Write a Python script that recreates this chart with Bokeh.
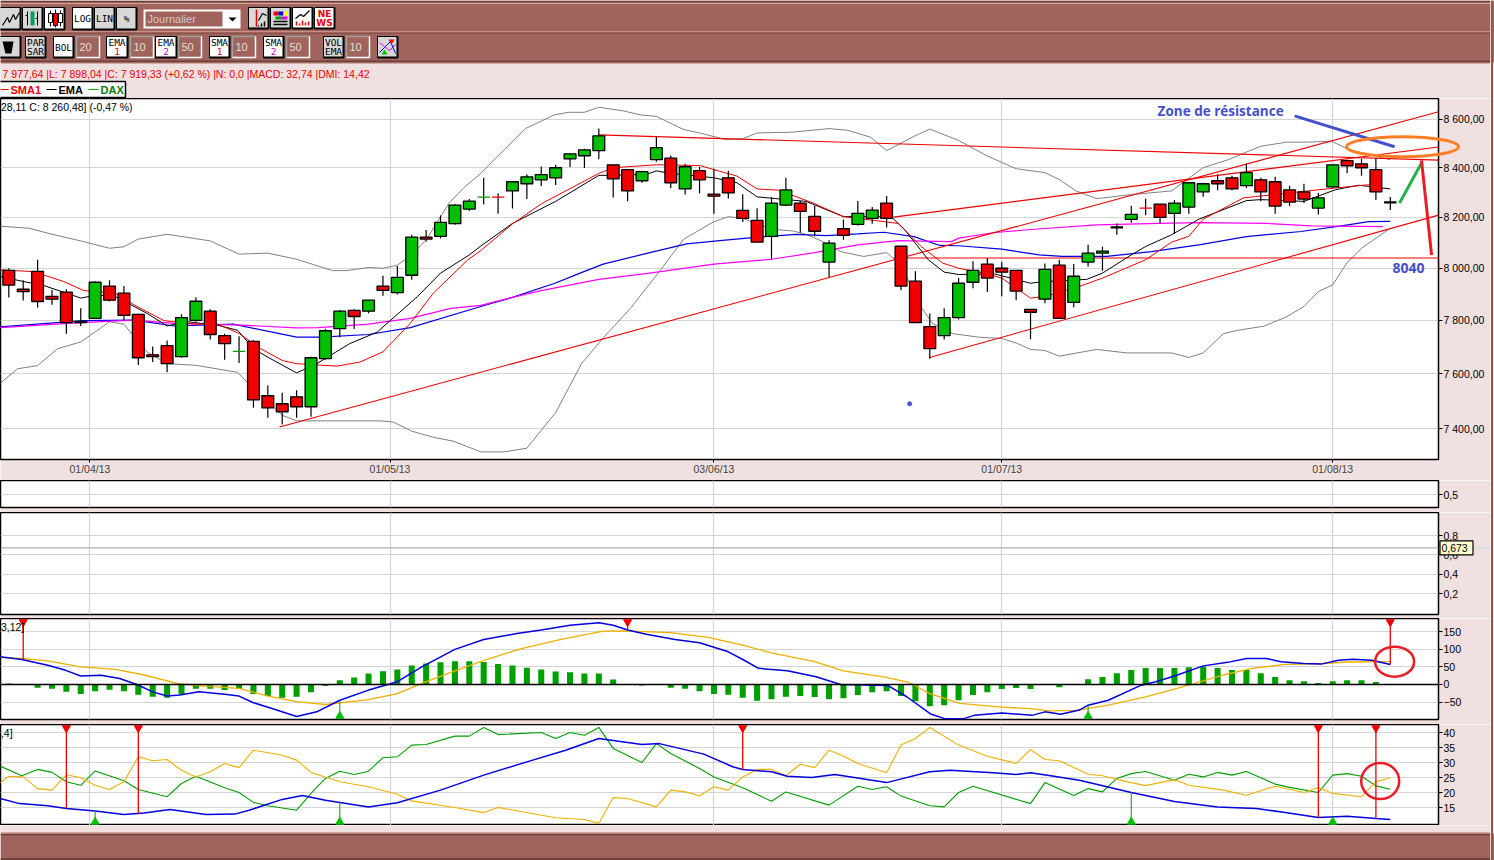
from bokeh.plotting import figure
from bokeh.layouts import column, row
from bokeh.models import FixedTicker, Span
from bokeh.core.properties import value
from bokeh.embed import file_html
from bokeh.resources import INLINE

# ---- candles (bar index is the list position) ----
opens = [7992,7919,7988,7892,7908,7796,7808,7931,7904,7823,7671,7705,7664,7800,7835,7743,7684,7721,7520,7491,
         7516,7480,7657,7769,7838,7835,7931,7906,7973,8122,8125,8175,8233,8281,8281,8306,8335,8351,8359,8436,
         8449,8470,8412,8392,8347,8433,8439,8314,8388,8293,8359,8228,8188,8125,8249,8257,8204,8024,8155,8172,
         8196,8257,8086,7950,7777,7743,7811,7946,8016,8000,7992,7842,7881,8012,7869,8024,8059,8166,8192,8237,
         8253,8216,8241,8302,8347,8359,8327,8351,8343,8310,8302,8237,8322,8429,8416,8392,8265]
closes = [7935,7910,7872,7881,7792,7792,7946,7877,7819,7660,7664,7638,7811,7873,7747,7713,7684,7505,7476,7462,
          7480,7660,7761,7835,7815,7877,7915,7965,8122,8114,8180,8249,8265,8281,8281,8343,8363,8372,8400,8457,
          8473,8531,8355,8306,8384,8482,8339,8404,8351,8285,8298,8196,8102,8257,8310,8224,8145,8098,8129,8216,
          8229,8196,7931,7792,7694,7811,7942,7992,7962,7985,7912,7831,7996,7808,7969,8059,8067,8160,8212,8237,
          8200,8257,8339,8335,8335,8314,8380,8302,8245,8261,8273,8278,8412,8408,8400,8302,8260]
highs = [8000,7954,8033,7917,7919,7846,7950,7954,7931,7825,7702,7724,7823,7888,7842,7750,7740,7726,7558,7531,
         7540,7664,7769,7840,7842,7878,7971,8009,8131,8150,8208,8253,8273,8359,8297,8343,8373,8405,8412,8457,
         8478,8561,8412,8392,8388,8527,8450,8416,8404,8396,8388,8293,8236,8282,8359,8265,8246,8110,8192,8265,
         8241,8286,8086,7988,7826,7846,7962,8027,8039,8024,7992,7842,8019,8033,8017,8092,8084,8176,8246,8274,
         8253,8269,8339,8339,8373,8367,8416,8359,8363,8327,8335,8298,8412,8433,8437,8439,8282]
lows = [7887,7876,7849,7860,7750,7779,7805,7872,7800,7633,7644,7606,7660,7795,7728,7653,7641,7476,7440,7416,
        7440,7444,7653,7737,7768,7827,7894,7899,7956,8105,8116,8171,8225,8251,8214,8235,8273,8326,8330,8403,
        8399,8435,8280,8264,8339,8424,8317,8292,8296,8214,8276,8182,8102,8035,8245,8139,8125,7966,8111,8168,
        8175,8160,7915,7792,7656,7728,7804,7923,7908,7892,7877,7729,7865,7808,7850,8007,7990,8131,8179,8209,
        8176,8134,8214,8283,8309,8309,8318,8264,8214,8245,8257,8211,8318,8378,8367,8269,8229]
doji_green = [16, 33]
doji_red = [34, 79]
doji_black = [77, 96]

# ---- price overlays: (bar index, price) ----
bb_upper = [(-0.6,8165),(1.4,8157),(3,8133),(5,8107),(7,8078),(8,8084),(9,8114),(11,8133),(14,8107),(16,8055),(18,8059),
            (20,8035),(22.5,7991),(23.5,7991),(25,8003),(26,8000),(27,8012),(28,8052),(29,8111),(30.6,8257),(31.6,8318),
            (32.8,8377),(35.9,8561),(37.9,8618),(38.9,8629),(40,8629),(41,8650),(42.7,8635),(43.9,8618),(45,8612),
            (46.9,8557),(48,8543),(49.8,8516),(51,8519),(52,8543),(54.4,8546),(57,8561),(58.3,8554),(59.9,8525),(61,8470),
            (62.9,8529),(64,8559),(66,8512),(68,8448),(70,8396),(72,8380),(73,8352),(74.2,8305),(75.6,8275),(78,8291),
            (80.8,8306),(83,8400),(84.8,8434),(86,8464),(87,8488),(88.8,8505),(90.3,8505),(91.9,8509),(93.1,8475),
            (94.5,8454),(96,8433)]
bb_lower = [(-0.6,7566),(0.6,7619),(2,7631),(3.4,7694),(5,7719),(7,7795),(8,7786),(9.6,7682),(11,7638),(13,7632),(15.9,7606),
            (17,7546),(19,7449),(20,7429),(22.3,7429),(24.4,7429),(25.8,7429),(26.7,7425),(28,7392),(29.5,7370),(30.9,7356),
            (32.8,7318),(34.4,7318),(36,7331),(38,7459),(39.8,7638),(41.3,7734),(43.2,7846),(45.3,7994),(46.9,8114),
            (49,8183),(50,8203),(51,8196),(53,8153),(54.5,8146),(55.5,8131),(56.8,8098),(57.8,8065),(59.4,8046),(61,8061),
            (62,8013),(63.3,7859),(64.2,7788),(65.6,7750),(67.4,7737),(69,7732),(70.1,7713),(71,7691),(72,7687),(73,7666),
            (75.6,7691),(77.7,7678),(80.8,7678),(82,7661),(83,7678),(84.4,7750),(85.3,7762),(87.2,7778),(88.8,7814),
            (90,7853),(91,7910),(92,7936),(93,8022),(94,8078),(96,8157)]
ema1 = [(-0.6,7968),(1,7949),(2.5,7932),(4,7904),(5,7885),(6.1,7897),(7.4,7891),(8.5,7859),(9.6,7827),(11,7779),(12.4,7795),
        (14.5,7782),(15.9,7763),(17,7694),(18,7662),(20,7604),(21.4,7638),(23.7,7713),(25.6,7756),(28.4,7891),(30,7981),
        (32,8052),(32.8,8087),(35,8176),(38,8264),(41,8369),(41.8,8369),(44.3,8373),(45,8387),(46,8377),(49,8359),(50.6,8339),
        (52,8282),(53.3,8275),(55.4,8264),(58,8203),(61.3,8203),(62.2,8155),(63.9,8033),(65,7985),(66,7976),(68.5,7978),
        (71,7942),(71.8,7948),(74.9,7957),(76,7981),(78,8052),(79,8085),(80.8,8131),(82.7,8193),(86,8267),(87,8271),(90,8264),
        (92.2,8311),(93.8,8329),(96,8314)]
sma1 = [(-0.6,7994),(1.7,7987),(3.8,7949),(5.2,7914),(7.4,7904),(8.7,7859),(10.8,7799),(12.9,7786),(14.5,7786),(16,7751),
        (17.5,7694),(19,7650),(20,7638),(22.8,7629),(24.4,7644),(26,7682),(27.9,7789),(29.5,7904),(31.9,8033),(32.8,8069),
        (35,8174),(37,8254),(41,8377),(42,8400),(45,8412),(48,8409),(50.6,8366),(52,8314),(53.5,8309),(55.9,8257),(58,8203),
        (60,8189),(61.8,8176),(63.4,8085),(64.9,8020),(66,8000),(67.8,7981),(69,7962),(71,7885),(72,7891),(74.4,7930),(76,7962),
        (79,8033),(80.8,8102),(82,8125),(83,8193),(85.8,8278),(92.2,8318),(94.5,8331),(95.4,8322)]
ema2 = [(-0.6,7776),(5.2,7799),(8.7,7801),(11.5,7779),(15.6,7786),(20,7737),(21.7,7737),(25,7747),(27.9,7773),(32.8,7853),
        (35,7888),(37.9,7941),(39.7,7981),(41.3,8016),(44.4,8059),(47.1,8095),(49.4,8108),(51.3,8118),(54.7,8133),(56.8,8128),
        (59,8135),(60.8,8141),(62.9,8124),(64.7,8089),(66,8088),(69,8075),(71.6,8052),(73.2,8046),(76.3,8046),(79.4,8065),
        (82.7,8091),(86,8124),(89.8,8144),(92.6,8166),(94.5,8183),(96,8184)]
sma2 = [(-0.6,7773),(5,7792),(8.7,7801),(11.5,7789),(16.3,7782),(20,7772),(21.5,7773),(25,7786),(27.9,7808),(30.7,7846),
        (32.8,7857),(35,7888),(37,7914),(41,7957),(44.4,7980),(49,8016),(53,8035),(56,8061),(59,8091),(61.8,8108),(65.5,8104),
        (66,8118),(68.5,8140),(71.3,8153),(75.6,8170),(79.9,8176),(82.7,8179),(87.4,8176),(90.5,8166),(95.5,8163)]

# hand-drawn trend lines: (bar index, price) pairs
trend_lines = [[(18.81,7407),(99.35,8631)], [(63.98,7661),(99.35,8209)], [(61.48,8201),(99.35,8485)],
               [(40.98,8535),(99.35,8431)], [(61.5,8040),(99.35,8040)]]
arrow_blue = [(89.35,8614),(96.3,8486)]
arrow_green = [(96.64,8257),(98.17,8419)]
arrow_red = [(98.17,8430),(98.87,8051)]
zone_ellipse = (96.85, 8486)
dot_blue = (62.6, 7491)
note_zone = (79.83, 8635, "Zone de résistance")
note_level = (96.16, 8000, "8040")

price_ticks = [7400,7600,7800,8000,8200,8400,8600]
price_labels = ["7 400,00","7 600,00","7 800,00","8 000,00","8 200,00","8 400,00","8 600,00"]
date_ticks = [5.64,26.49,49.0,69.0,92.0]
date_labels = ["01/04/13","01/05/13","03/06/13","01/07/13","01/08/13"]

# ---- MACD ----
macd_hist = [3,0,-9.5,-12,-21,-27,-19,-15,-19,-29,-35,-38,-28,-12,-12,-16,-13,-27,-33,-38,-35,-22,-4,12,20,31,38,43,54,60,63,66,66,
             64,58,54,48,43,37,35,31,31,14,0,-3,0,-9.5,-12,-19,-27,-29,-38,-46.5,-42,-35,-33,-36,-42,-39,-30,-22,-19,-33,-47.5,
             -62,-59,-45,-30,-22,-13,-10,-13,0,-7.6,0,15,21,32,41,47,47,47,49,51,47,41,41,32,21,12,9.5,4,9.5,12,12,7,1]
macd_line = [(-0.6,79),(0.9,71),(2.7,55),(3.9,41),(5,24),(6.4,26),(7.7,17),(8.9,0),(10,-21),(11,-33),(11.9,-30),(13.2,-21),(15,-28),(16,-33),
             (17,-52),(18.4,-70),(20,-91),(21.4,-78),(23,-45),(25,-16),(27,8),(28.7,50),(31,100),(33,128),(35.3,145),(37,155),(39,169),(41,176),
             (42,169),(43,155),(44.3,143),(46.3,128),(48,119),(50,93),(51.1,69),(52.1,46),(54.1,39),(56.1,22),(57.8,0),(61.1,-3),(62.4,-35),
             (64.1,-85),(65.1,-98),(66.3,-98),(67.1,-88),(69,-81),(71.1,-88),(72,-78),(73.1,-85),(74.4,-73),(75,-59),(76.4,-45),(78.7,-2),(79.7,8),
             (81,24),(83,53),(84.7,63),(86,74),(87.4,74),(88.4,65),(90,60),(91.2,58),(92.4,69),(93.4,72),(94.7,69),(96,57)]
macd_signal = [(-0.6,77),(0.9,74),(2.7,67),(5,50),(7.4,43),(9.4,27),(11.7,3),(13.4,-4),(16,-11),(18,-33),(20,-49),(22,-57),(25,-43),(27,-26),
               (28.7,3),(31,39),(33.4,74),(35.7,103),(38.3,128),(41.3,152),(42.6,153),(46,148),(48.6,134),(51,112),(53,90),(56,65),(58,39),(61,20),
               (62.6,5),(64,-26),(66.1,-54),(68.8,-64),(71,-69),(72.4,-75),(74.2,-74),(76.4,-59),(79,-35),(82,-2),(84.4,27),(86.4,46),(88.7,57),
               (91,59),(93,64),(96,65)]
macd_sell = [(1,71),(43,155),(96,57)]
macd_buy = [(23,-45),(75,-59)]
macd_ticks = [-50,0,50,100,150]

# ---- DMI ----
adx = [(-0.6,18),(0.75,16.3),(2.7,15.6),(4,14.7),(6,13.8),(8,12.7),(9.4,13.2),(11.2,14.3),(13.7,12.7),(15.7,12.8),(16.7,14.1),(19,17.7),(20.4,19),
       (22,17.4),(25,15.2),(27,16.6),(30,20.8),(33,25.8),(36,30.2),(38.7,34.1),(41,38),(44,36),(45.2,36.3),(48.3,32.8),(50.3,28.6),(51,27.7),(53,26.9),
       (54.1,25.4),(55.8,25),(57.4,26),(61,23.3),(64,26.9),(65.4,27.4),(68.4,26.6),(70,26),(71,26.6),(72.4,25.6),(74.4,24.1),(78,20),(81,17),(84,15.2),
       (86.7,14.7),(88.7,13.3),(91,11.7),(93,12.1),(95,11.3),(96,11)]
di_plus = [(-0.6,28.8),(0.9,25.6),(2,27.7),(3,26.7),(4,23.6),(5,22.4),(6,27.2),(8,23.9),(9,21),(11,18.6),(12,23),(13,25.4),(15,21.6),(16,20),(17,16.7),
           (18,15.6),(20,14.1),(21,19.7),(22,24.7),(23,27.1),(24,26),(25,27.1),(26,31.6),(27,31.9),(28,35.8),(29,36),(31,38.8),(32,38.8),(33,41.7),(34,39.3),
           (37,40),(38,38),(39,40),(40,39.1),(41,41.7),(42,34.7),(44,30),(45,36.3),(46,33),(48,28),(49,25.2),(51,21.6),(53,17.1),(54,20.2),(57,15.8),(59,22.1),
           (60,21),(61,21.9),(62,18.8),(64,15.6),(65,15.2),(66,20),(67,22.1),(71,16.3),(72,23.3),(74,19),(75,21.3),(76,20.2),(77,24.7),(78,26.3),(79,27),
           (81,24.1),(82,26.1),(83,25.2),(84,26.7),(85,25.8),(86,27),(88,22.8),(89,21.7),(91,20),(92,25.8),(93,26.3),(94,25.4),(95,22.2),(96,21.1)]
di_minus = [(-0.6,23.2),(0,25.4),(1,25.2),(2,21.3),(3,20.8),(4,25.9),(5,24.9),(6,22.4),(7,21),(8,23.6),(9,31.9),(10,30.6),(11,31),(12,27.4),(13,25.2),(14,26.9),
            (15,29.7),(16,28.3),(17,34.1),(19,32.4),(20,30.8),(21,26.7),(23,23.6),(25,21.9),(27,19.4),(28,17.2),(31,15),(33,13.3),(34,15),(38,11.6),(40,11),(41,9.7),
            (42,18.3),(43,18),(45,15.2),(46,20.8),(47,20.2),(48,18.9),(49,21.9),(50,20.8),(51,25.2),(52,27.7),(53,27.7),(54,25.6),(55,29.4),(56,28.3),(57,34.1),
            (58,32.2),(59,29.7),(61,26.6),(62,35.8),(63,38),(64,41.7),(66,35.8),(68,32.1),(70,29.7),(71,34.3),(72,31),(73,30.6),(75,26.1),(76,25.6),(78,23.3),(79,22.3),
            (81,24.3),(82,22.4),(84.4,20.8),(86,19.1),(88,22.1),(90,20),(91,21.7),(92,19.7),(94,18.6),(95,23.6),(96,24.9)]
dmi_sell = [(4,14.7),(9,13),(51,27.7),(91,11.7),(95,11.3)]
dmi_buy = [(6,14),(23,16.9),(78,20.2),(92,11.7)]
dmi_ticks = [15,20,25,30,35,40]

# ---- header text ----
info_line = "7 977,64 |L: 7 898,04 |C: 7 919,33 (+0,62 %) |N: 0,0 |MACD: 32,74 |DMI: 14,42"
quote_line = "28,11   C: 8 260,48] (-0,47 %)"
gauge_value = 0.673

BROWN = "#a0645c"; PINK = "#f0e0e0"; GRID = "#d4d4d4"; RED = "#f00000"; GREEN = "#00c000"; DGREEN = "#00a000"
BLUE = "#0000e0"; ORANGE = "#f0b000"; NOTE = "#4450cc"
FONT = "Liberation Sans"
XR = (-0.577, 99.35)
W = 1490


def xs(pts): return [a for a, _ in pts]
def ys(pts): return [b for _, b in pts]


def chrome(y0, y1):
    p = figure(width=W, height=y1 - y0, x_range=(0, W), y_range=(y1, y0), x_axis_location=None, y_axis_location=None,
               toolbar_location=None, output_backend="svg", min_border=0, outline_line_color=None,
               background_fill_color=PINK, border_fill_color=PINK, frame_align=False)
    p.grid.visible = False
    return p


def panel(height, y_range, ticks, bottom, y_type="linear", xaxis=False):
    p = figure(frame_width=1438, frame_height=height, x_range=XR, y_range=y_range, y_axis_type=y_type, y_axis_location="right",
               toolbar_location=None, output_backend="svg", min_border_left=0, min_border_right=52, min_border_top=0,
               min_border_bottom=bottom, background_fill_color="white", border_fill_color=PINK,
               outline_line_color="black", outline_line_width=1.5)
    p.yaxis.ticker = FixedTicker(ticks=ticks)
    p.xaxis.ticker = FixedTicker(ticks=date_ticks)
    p.xgrid.ticker = FixedTicker(ticks=date_ticks)
    p.grid.grid_line_color = GRID
    p.grid.grid_line_width = 1.2
    p.yaxis.major_tick_in = 0
    p.yaxis.major_tick_out = 4
    p.yaxis.minor_tick_line_color = None
    p.yaxis.major_label_standoff = 1
    p.yaxis.major_label_text_font = FONT
    p.yaxis.major_label_text_font_size = "10.5px"
    p.yaxis.major_label_text_color = "black"
    p.yaxis.axis_line_color = None
    p.xaxis.minor_tick_line_color = None
    p.xaxis.major_tick_in = 0
    p.xaxis.major_tick_out = 3
    p.xaxis.major_label_standoff = 0
    p.xaxis.major_label_text_font = FONT
    p.xaxis.major_label_text_font_size = "10.5px"
    p.xaxis.axis_line_color = None
    if not xaxis:
        p.xaxis.visible = False
    return p


def signals(p, sells, buys, top, bottom):
    for (i, v) in sells:
        p.segment([i], [v], [i], [top], line_color=RED, line_width=1.3)
    p.scatter(xs(sells), [top] * len(sells), marker="inverted_triangle", size=8, color=RED)
    for (i, v) in buys:
        p.segment([i], [v], [i], [bottom], line_color=DGREEN, line_width=1)
    p.scatter(xs(buys), [bottom] * len(buys), marker="triangle", size=8, color=GREEN)


# ======= header =======
h = chrome(0, 98)
h.quad(left=[0], right=[W], top=[0], bottom=[62], fill_color=BROWN, line_color=None)
h.line([0, W], [1, 1], line_color="#6e403a", line_width=1.5)
h.line([0, W], [3, 3], line_color="#d8a8a0", line_width=1)
h.line([0, W], [31, 31], line_color="#c89088", line_width=1)
h.line([0, W], [33, 33], line_color="#84504a", line_width=1)
h.line([0, W], [61, 61], line_color="#6e403a", line_width=2)
h.line([0, W], [63, 63], line_color="#d8a8a0", line_width=1)


def button(x0, x1, y0, y1, fill, l1=None, l2=None, c2="black"):
    h.quad(left=[x0], right=[x1], top=[y0], bottom=[y1], fill_color=fill, line_color="black", line_width=1)
    h.line([x1, x1, x0], [y0, y1, y1], line_color="black", line_width=2)
    mid = (x0 + x1) / 2
    f = dict(text_font=value("DejaVu Sans Mono"), text_font_size="9.5px", text_align="center", text_baseline="middle")
    if l1 and l2:
        h.text([mid], [(y0 * 3 + y1) / 4 + 0.5], text=[l1], text_color="black", **f)
        h.text([mid], [(y0 + y1 * 3) / 4 - 0.5], text=[l2], text_color=c2, **f)
    elif l1:
        h.text([mid], [(y0 + y1) / 2], text=[l1], text_color="black", **f)


def field(x0, x1, y0, y1, txt):
    h.quad(left=[x0], right=[x1], top=[y0], bottom=[y1], fill_color=BROWN, line_color=None)
    h.line([x0, x0, x1], [y1, y0, y0], line_color="#a0a0a0", line_width=1.5)
    h.line([x0, x1, x1], [y1, y1, y0], line_color="white", line_width=1.5)
    h.text([x0 + 3], [(y0 + y1) / 2], text=[txt], text_color="#eadcdc", text_font=value(FONT), text_font_size="11px", text_baseline="middle")


R1 = (7, 29); R2 = (36, 57); GR = "#d8d8d8"
button(-2, 20, *R1, GR); button(22, 42, *R1, GR); button(44, 64, *R1, "white")
button(72, 92, *R1, "white", "LOG"); button(94, 114, *R1, GR, "LIN"); button(116, 136, *R1, GR, "%")
h.line([2, 7, 9, 13, 15, 19], [25, 17, 22, 14, 19, 12], line_color="black", line_width=1.2)
h.segment([27, 37], [11, 11], [27, 37], [25, 25], line_color="black")
h.segment([25, 35], [15, 18], [27, 37], [15, 18], line_color="black")
h.quad(left=[30], right=[34], top=[11], bottom=[25], fill_color="#00a060", line_color=None)
h.segment([50, 60], [10, 10], [50, 60], [26, 26], line_color="black")
h.quad(left=[48, 58], right=[52, 62], top=[13, 13], bottom=[22, 22], fill_color="white", line_color="black")
h.segment([55], [9], [55], [27], line_color="black")
h.quad(left=[53], right=[57], top=[13], bottom=[25], fill_color=RED, line_color="black")
# period selector
h.quad(left=[143], right=[240], top=[9], bottom=[28], fill_color="white", line_color=None)
h.quad(left=[145], right=[222], top=[11], bottom=[26], fill_color=BROWN, line_color=None)
h.text([147], [18.5], text=["Journalier"], text_color="#d8c8c8", text_font=value(FONT), text_font_size="11px", text_baseline="middle")
h.patch([228, 236, 232], [17, 17, 21], fill_color="black", line_color=None)
for x0 in (248, 270, 292, 314):
    button(x0, x0 + 20, 7, 28, GR if x0 < 290 else "white")
h.line([256, 256], [9, 26], line_color=RED, line_width=1.5)
h.line([258, 262, 266], [20, 13, 15], line_color="black", line_width=1.2)
h.segment([258, 261, 264], [25, 23, 21], [258, 261, 264], [26, 26, 26], line_color="black", line_width=1.5)
h.quad(left=[273, 278, 283, 275, 281], right=[278, 283, 287, 281, 287], top=[11, 11, 11, 16, 16], bottom=[15, 15, 15, 19, 19],
       fill_color=[RED, "#0000ff", "#ffff00", "#00a000", "#e000e0"], line_color=None)
h.segment([273, 273], [21, 24], [287, 287], [21, 24], line_color="black", line_width=1.5)
h.line([295, 300, 303, 309], [18, 14, 16, 10], line_color="black", line_width=1.2)
h.segment([296, 299, 302, 305, 308], [25, 25, 25, 25, 25], [296, 299, 302, 305, 308], [21, 23, 20, 22, 21], line_color=RED, line_width=1.5)
h.text([324, 324], [13, 22], text=["NE", "WS"], text_color=RED, text_font=value("DejaVu Sans"), text_font_size="9px", text_font_style="bold",
       text_align="center", text_baseline="middle")

button(-2, 20, *R2, GR)
h.patch([2, 13, 11, 5], [41, 41, 53, 53], fill_color="black", line_color=None)
button(25, 45, *R2, GR, "PAR", "SAR")
button(53, 73, *R2, "white", "BOL"); field(76, 99, *R2, "20")
button(106, 127, *R2, "white", "EMA", "1", RED); field(130, 153, *R2, "10")
button(155, 176, *R2, "white", "EMA", "2", "#c000c0"); field(178, 201, *R2, "50")
button(209, 229, *R2, "white", "SMA", "1", RED); field(232, 255, *R2, "10")
button(263, 283, *R2, "white", "SMA", "2", "#c000c0"); field(286, 309, *R2, "50")
button(323, 343, *R2, GR, "VOL", "EMA"); field(346, 369, *R2, "10")
button(377, 397, *R2, GR)
h.line([379, 384, 389, 395], [42, 46, 50, 44], line_color="#ff00ff", line_width=1)
h.line([379, 384, 390, 395], [52, 47, 41, 53], line_color="#0000ff", line_width=1)
h.patch([388, 394, 391], [39, 39, 44], fill_color=RED, line_color=None)
h.patch([381, 387, 384], [54, 54, 49], fill_color="#00c000", line_color=None)

h.text([2], [73], text=[info_line], text_color=RED, text_font=value(FONT), text_font_size="10.5px", text_baseline="middle")
h.quad(left=[-2], right=[125], top=[81], bottom=[97], fill_color="white", line_color="black", line_width=1.5)
h.line([0, 8], [89, 89], line_color=RED)
h.line([46, 56], [89, 89], line_color="black")
h.line([88, 98], [89, 89], line_color=DGREEN)
lg = dict(text_font=value(FONT), text_font_size="11px", text_font_style="bold", text_baseline="middle")
h.text([10], [89], text=["SMA1"], text_color=RED, **lg)
h.text([58], [89], text=["EMA"], text_color="black", **lg)
h.text([100], [89], text=["DAX"], text_color="#008000", **lg)

# ======= price panel =======
p = panel(361, (7291, 8687), price_ticks, 21, y_type="log", xaxis=True)
p.yaxis.major_label_overrides = {t: s for t, s in zip(price_ticks, price_labels)}
p.xaxis.major_label_overrides = {t: s for t, s in zip(date_ticks, date_labels)}
p.text([-0.55], [8650], text=[quote_line], text_color="black", text_font=value(FONT), text_font_size="10.5px", text_baseline="middle")

for s, col in ((bb_upper, "#808080"), (bb_lower, "#808080")):
    p.line(xs(s), ys(s), line_color=col, line_width=1)
for s, col in ((ema2, BLUE), (sma2, "#ff00ff")):
    p.line(xs(s), ys(s), line_color=col, line_width=1.2)
for t in trend_lines:
    p.line(xs(t), ys(t), line_color=RED, line_width=1.1)
p.line(xs(ema1), ys(ema1), line_color="black", line_width=1)
p.line(xs(sma1), ys(sma1), line_color=RED, line_width=1)

index = list(range(len(opens)))
p.segment(index, highs, index, lows, line_color="black", line_width=1.2)
dojis = set(doji_green + doji_red + doji_black)
body = [i for i in index if i not in dojis]
top = [max(opens[i], closes[i]) for i in body]
bot = [min(opens[i], closes[i]) for i in body]
col = [GREEN if closes[i] >= opens[i] else RED for i in body]
p.vbar(x=body, top=top, bottom=bot, width=0.82, fill_color=col, line_color="black", line_width=1.3)
for ids, c, w in ((doji_green, "#00a000", 1.2), (doji_red, RED, 1.2), (doji_black, "black", 2.2)):
    p.segment([i - 0.43 for i in ids], [closes[i] for i in ids], [i + 0.43 for i in ids], [closes[i] for i in ids], line_color=c, line_width=w)

p.line(xs(arrow_blue), ys(arrow_blue), line_color=NOTE, line_width=3)
p.line(xs(arrow_green), ys(arrow_green), line_color="#22b14c", line_width=3)
p.line(xs(arrow_red), ys(arrow_red), line_color="#ed1c24", line_width=3)
p.ellipse([zone_ellipse[0]], [zone_ellipse[1]], width=112, height=20, width_units="screen", height_units="screen",
          fill_color=None, line_color="#ff7f27", line_width=3, level="overlay")
p.scatter([dot_blue[0]], [dot_blue[1]], marker="circle", size=4, color=NOTE)
note = dict(text_font=value("Open Sans"), text_font_style="bold", text_baseline="middle", text_color=NOTE)
p.text([note_zone[0]], [note_zone[1]], text=[note_zone[2]], text_font_size="13.5px", **note)
p.text([note_level[0]], [note_level[1]], text=[note_level[2]], text_font_size="14px", **note)

# ======= empty indicator panels =======
p0 = panel(27, (0.37, 0.64), [0.5], 5)
p0.yaxis.major_label_overrides = {0.5: "0,5"}
p1 = panel(102, (-0.015, 1.039), [0.2, 0.4, 0.6, 0.8], 4)
p1.yaxis.major_label_overrides = {0.2: "0,2", 0.4: "0,4", 0.6: "0,6", 0.8: "0,8"}
p1.line([XR[0], XR[1]], [gauge_value, gauge_value], line_color="#b0b0b0", line_width=1.2)
p1.line([101.7, 103.0], [gauge_value, gauge_value], line_color="#c8dcdc", line_width=1, level="overlay")
p1.rect([100.6], [gauge_value], width=33, height=14, width_units="screen", height_units="screen",
        fill_color="#ffffd0", line_color="black", line_width=1.2, level="overlay")
p1.text([99.55], [gauge_value], text=["0,673"], text_color="black", text_font=value(FONT), text_font_size="10.5px",
        text_baseline="middle", level="overlay")

# ======= MACD =======
p2 = panel(101, (-99.8, 188), macd_ticks, 5)
p2.vbar(x=index, top=macd_hist, bottom=0, width=0.42, fill_color=DGREEN, line_color=None)
p2.add_layout(Span(location=0, dimension="width", line_color="black", line_width=1.3))
p2.line(xs(macd_signal), ys(macd_signal), line_color=ORANGE, line_width=1.3)
p2.line(xs(macd_line), ys(macd_line), line_color=BLUE, line_width=1.5)
signals(p2, macd_sell, macd_buy, 178, -90)
p2.text([-0.55], [165], text=["3,12]"], text_color="black", text_font=value(FONT), text_font_size="10.5px", text_baseline="middle")
p2.ellipse([96.3], [65], width=39, height=30, width_units="screen", height_units="screen", fill_color=None, line_color="#ed1c24", line_width=2.5)

# ======= DMI =======
p3 = panel(101, (9, 42.67), dmi_ticks, 0)
p3.line(xs(di_plus), ys(di_plus), line_color=DGREEN, line_width=1.1)
p3.line(xs(di_minus), ys(di_minus), line_color=ORANGE, line_width=1.1)
p3.line(xs(adx), ys(adx), line_color=BLUE, line_width=1.5)
signals(p3, dmi_sell, dmi_buy, 41.5, 10.2)
p3.text([-0.55], [39.7], text=[",4]"], text_color="black", text_font=value(FONT), text_font_size="10.5px", text_baseline="middle")
p3.ellipse([95.3], [23.8], width=38, height=36, width_units="screen", height_units="screen", fill_color=None, line_color="#ed1c24", line_width=2.5)

# ======= footer =======
f = chrome(825, 860)
f.quad(left=[0], right=[W], top=[833], bottom=[860], fill_color=BROWN, line_color=None)
f.line([0, W], [832, 832], line_color="#d8a8a0", line_width=1)
f.line([0, W], [834, 834], line_color="#6e403a", line_width=1.5)
f.line([0, W], [858.5, 858.5], line_color="#6e403a", line_width=2)

# right window edge
e = figure(width=4, height=860, x_range=(1490, 1494), y_range=(860, 0), x_axis_location=None, y_axis_location=None,
           toolbar_location=None, output_backend="svg", min_border=0, outline_line_color=None,
           background_fill_color=PINK, border_fill_color=PINK, frame_align=False)
e.grid.visible = False
e.quad(left=[1490, 1490, 1490.5], right=[1494, 1494, 1492.5], top=[0, 833, 0], bottom=[62, 860, 860],
       fill_color=[BROWN, BROWN, "#8c5850"], line_color=None)

page = row(column(h, p, p0, p1, p2, p3, f, spacing=0), e, spacing=0)
open("out.html", "w").write(file_html(page, INLINE))
